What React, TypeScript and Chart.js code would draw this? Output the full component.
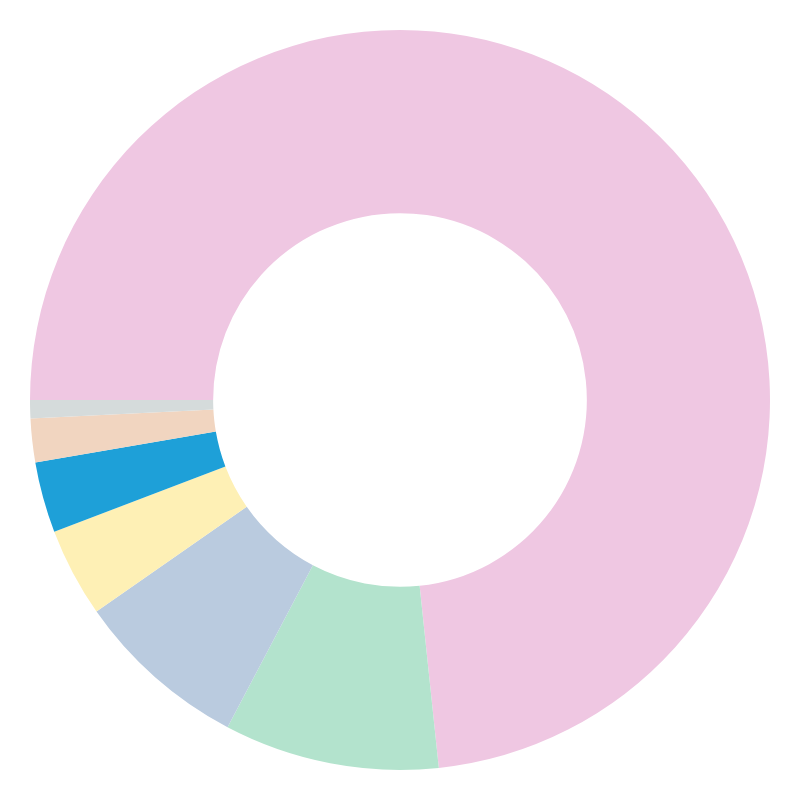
import { useEffect, useRef } from 'react';
import { Chart, registerables } from 'chart.js';

Chart.register(...registerables);

const labels = ['A', 'B', 'C', 'D', 'E', 'F', 'G'];
const values = [73.4, 9.4, 7.6, 3.9, 3.1, 1.9, 0.8];
const colors = ['#EFC7E2', '#B3E3CD', '#BACBDF', '#FEF0B5', '#1EA0D8', '#F1D5C0', '#D5DBDB'];

export default function App() {
  const chartRef = useRef<HTMLCanvasElement>(null);
  const chartInstance = useRef<Chart | null>(null);

  useEffect(() => {
    if (!chartRef.current) return;
    if (chartInstance.current) chartInstance.current.destroy();

    chartInstance.current = new Chart(chartRef.current, {
      type: 'doughnut',
      data: {
        labels,
        datasets: [
          {
            data: values,
            backgroundColor: colors,
            borderWidth: 0,
            hoverOffset: 0,
          },
        ],
      },
      options: {
        animation: false,
        responsive: true,
        maintainAspectRatio: false,
        rotation: -90,
        cutout: '50.5%',
        layout: { padding: 22 },
        plugins: {
          legend: { display: false },
          tooltip: { enabled: false },
        },
      },
    });

    return () => {
      if (chartInstance.current) {
        chartInstance.current.destroy();
        chartInstance.current = null;
      }
    };
  }, []);

  return (
    <div style={{ width: 784, height: 784 }}>
      <canvas ref={chartRef}></canvas>
    </div>
  );
}
